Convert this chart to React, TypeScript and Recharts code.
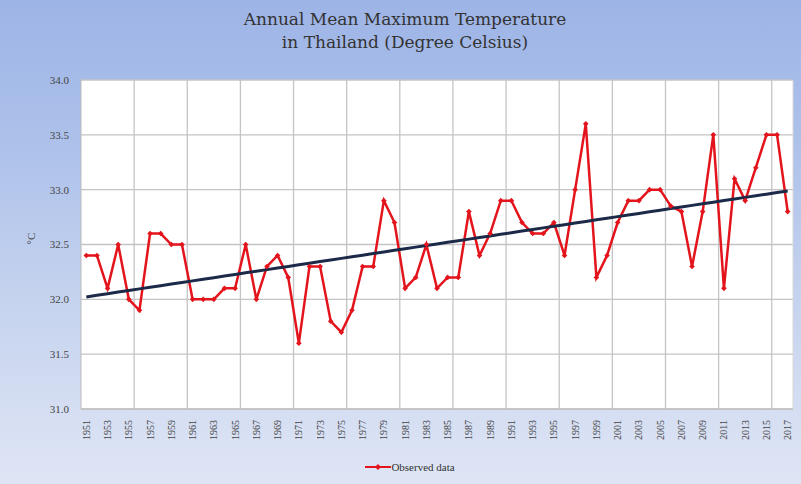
import { LineChart, Line, XAxis, YAxis, CartesianGrid, ReferenceLine } from "recharts";

const years: number[] = [
  1951, 1952, 1953, 1954, 1955, 1956, 1957, 1958, 1959, 1960,
  1961, 1962, 1963, 1964, 1965, 1966, 1967, 1968, 1969, 1970,
  1971, 1972, 1973, 1974, 1975, 1976, 1977, 1978, 1979, 1980,
  1981, 1982, 1983, 1984, 1985, 1986, 1987, 1988, 1989, 1990,
  1991, 1992, 1993, 1994, 1995, 1996, 1997, 1998, 1999, 2000,
  2001, 2002, 2003, 2004, 2005, 2006, 2007, 2008, 2009, 2010,
  2011, 2012, 2013, 2014, 2015, 2016, 2017,
];

const observed: number[] = [
  32.4, 32.4, 32.1, 32.5, 32.0, 31.9, 32.6, 32.6, 32.5, 32.5,
  32.0, 32.0, 32.0, 32.1, 32.1, 32.5, 32.0, 32.3, 32.4, 32.2,
  31.6, 32.3, 32.3, 31.8, 31.7, 31.9, 32.3, 32.3, 32.9, 32.7,
  32.1, 32.2, 32.5, 32.1, 32.2, 32.2, 32.8, 32.4, 32.6, 32.9,
  32.9, 32.7, 32.6, 32.6, 32.7, 32.4, 33.0, 33.6, 32.2, 32.4,
  32.7, 32.9, 32.9, 33.0, 33.0, 32.85, 32.8, 32.3, 32.8, 33.5,
  32.1, 33.1, 32.9, 33.2, 33.5, 33.5, 32.8,
];

const yTicks: number[] = [31.0, 31.5, 32.0, 32.5, 33.0, 33.5, 34.0];
const xTicks: number[] = years.filter((y) => (y - 1951) % 2 === 0);
// gridlines sit between categories, every 5 years
const gridYears: number[] = years.filter((y) => (y - 1951) % 5 === 4 && y < 2017).map((y) => y + 0.5);

// least squares trend, like the spreadsheet trendline
const n = years.length;
const mx = years.reduce((a, b) => a + b, 0) / n;
const my = observed.reduce((a, b) => a + b, 0) / n;
let sxy = 0;
let sxx = 0;
years.forEach((x, i) => {
  sxy += (x - mx) * (observed[i] - my);
  sxx += (x - mx) * (x - mx);
});
const slope = sxy / sxx;

const data = years.map((year, i) => ({
  year,
  observed: observed[i],
  trend: my + slope * (year - mx),
}));

const serif = "'DejaVu Serif', 'Liberation Serif', serif";

const Diamond = (props: any) => {
  const { cx, cy } = props;
  if (cx == null || cy == null) return null;
  const r = 2.8;
  return <path d={`M${cx},${cy - r}L${cx + r},${cy}L${cx},${cy + r}L${cx - r},${cy}Z`} fill="#e3141c" />;
};

const XTick = ({ x, y, payload }: any) => (
  <text
    transform={`translate(${x},${y + 3}) rotate(-90)`}
    textAnchor="end"
    dy="0.35em"
    fontSize={10}
    fontFamily="'Liberation Serif', serif"
    fill="#444"
  >
    {payload.value}
  </text>
);

export default function App() {
  return (
    <div
      style={{
        position: "absolute",
        left: 0,
        top: 0,
        width: 801,
        height: 484,
        background: "linear-gradient(180deg, #9db4e6 0%, #adc1ea 30%, #c4d2ee 60%, #dfe5f5 100%)",
      }}
    >
      <div
        style={{
          position: "absolute",
          top: 8,
          left: 0,
          width: 810,
          textAlign: "center",
          fontFamily: serif,
          fontSize: 17,
          lineHeight: "23px",
          color: "#333",
        }}
      >
        Annual Mean Maximum Temperature
        <br />
        in Thailand (Degree Celsius)
      </div>
      <LineChart width={801} height={484} data={data} margin={{ top: 80, right: 8, bottom: 0, left: 0 }}>
        <CartesianGrid vertical={false} fill="#ffffff" stroke="#c4c4c4" strokeWidth={1.3} />
        <XAxis
          dataKey="year"
          type="number"
          domain={[1950.5, 2017.5]}
          ticks={xTicks}
          interval={0}
          tick={<XTick />}
          tickLine={false}
          axisLine={{ stroke: "#bbb" }}
          height={75}
        />
        <YAxis
          domain={[31, 34]}
          ticks={yTicks}
          tickFormatter={(v: number) => v.toFixed(1)}
          tick={{ fontSize: 11, fontFamily: "'Liberation Serif', serif", fill: "#444" }}
          tickLine={false}
          tickSize={8}
          tickMargin={4}
          axisLine={{ stroke: "#bbb" }}
          width={81}
          label={{ value: "°C", angle: -90, position: "insideLeft", offset: 31, fontSize: 11, fontFamily: "'Liberation Serif', serif", fill: "#444" }}
        />
        {gridYears.map((g) => (
          <ReferenceLine key={g} x={g} stroke="#c4c4c4" strokeWidth={1.3} />
        ))}
        <ReferenceLine x={2017.5} stroke="#d8d8d8" strokeWidth={1} />
        <Line
          type="linear"
          dataKey="observed"
          stroke="#e3141c"
          strokeWidth={2.5}
          dot={<Diamond />}
          isAnimationActive={false}
        />
        <Line
          type="linear"
          dataKey="trend"
          stroke="#1b2a48"
          strokeWidth={3}
          dot={false}
          isAnimationActive={false}
        />
      </LineChart>
      <div
        style={{
          position: "absolute",
          top: 461,
          left: 0,
          width: 820,
          display: "flex",
          justifyContent: "center",
          alignItems: "center",
          fontFamily: "'Liberation Serif', serif",
          fontSize: 11,
          color: "#333",
        }}
      >
        <svg width={26} height={10}>
          <line x1={0} y1={5} x2={26} y2={5} stroke="#e3141c" strokeWidth={2} />
          <path d="M13,2L16,5L13,8L10,5Z" fill="#e3141c" />
        </svg>
        <span>Observed data</span>
      </div>
    </div>
  );
}
